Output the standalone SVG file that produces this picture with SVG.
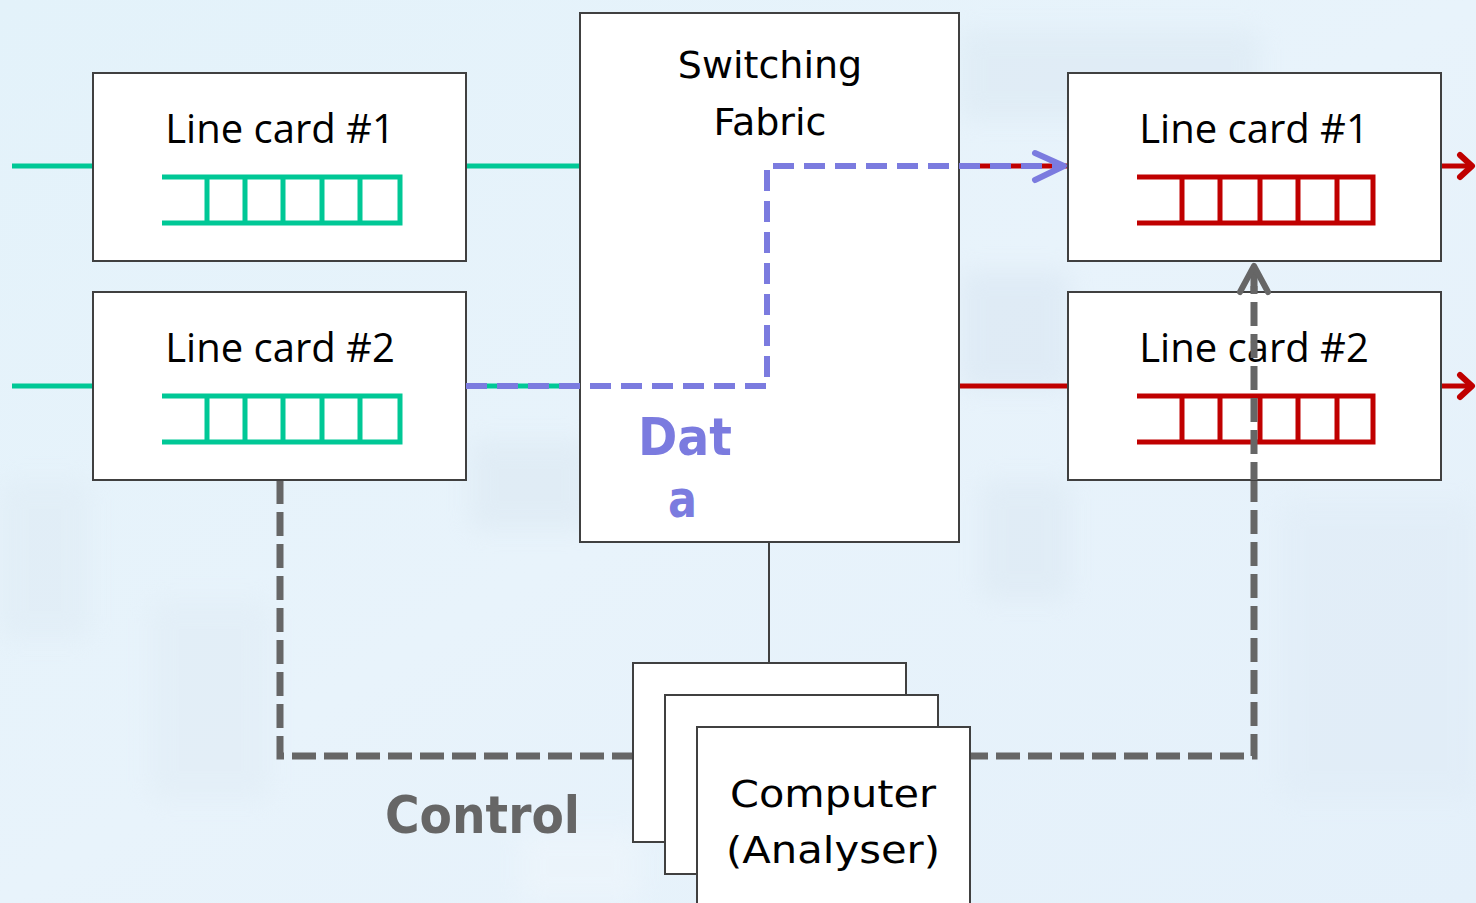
<svg xmlns="http://www.w3.org/2000/svg" width="1476" height="903" viewBox="0 0 1476 903">
  <style>
    .box { fill: #ffffff; stroke: #404040; stroke-width: 2; }
    .lc { font-family: "Open Sans", "Noto Sans", sans-serif; font-size: 40px; fill: #000; text-anchor: middle; }
    .sf { font-family: "DejaVu Sans", "Verdana", sans-serif; font-size: 38px; fill: #000; text-anchor: middle; }
    .big { font-family: "DejaVu Sans", "Verdana", sans-serif; font-weight: bold; font-size: 52px; }
    .qg { fill: none; stroke: #00c896; stroke-width: 5; }
    .qr { fill: none; stroke: #c00000; stroke-width: 5; }
    .lg { stroke: #00c896; stroke-width: 5; }
    .lr { stroke: #c00000; stroke-width: 5; fill: none; }
    .data { fill: none; stroke: #7b7bdf; stroke-width: 6; stroke-dasharray: 21 10; }
    .ctrl { fill: none; stroke: #666666; stroke-width: 7; stroke-dasharray: 24 8; }
    .head { fill: none; stroke-width: 6; stroke-linecap: round; stroke-linejoin: round; }
  </style>
  <defs>
    <linearGradient id="bg" x1="0" y1="0" x2="1" y2="1">
      <stop offset="0" stop-color="#e3f2fa"/>
      <stop offset="0.5" stop-color="#e8f3fb"/>
      <stop offset="1" stop-color="#e4f0fa"/>
    </linearGradient>
    <filter id="soft" x="-20%" y="-20%" width="140%" height="140%">
      <feGaussianBlur stdDeviation="12"/>
    </filter>
  </defs>

  <!-- backdrop -->
  <rect x="0" y="0" width="1476" height="903" fill="url(#bg)"/>
  <g filter="url(#soft)" opacity="0.4">
    <rect x="960" y="30" width="300" height="90" fill="#d6e4ef"/>
    <rect x="960" y="270" width="110" height="120" fill="#d2e0ee"/>
    <rect x="470" y="440" width="120" height="90" fill="#d6e3ee"/>
    <rect x="0" y="480" width="90" height="160" fill="#dce8f2"/>
    <rect x="980" y="480" width="90" height="120" fill="#d7e4ef"/>
    <rect x="520" y="830" width="120" height="73" fill="#f3f8fc"/>
    <rect x="150" y="600" width="120" height="200" fill="#dde9f3"/>
    <rect x="1280" y="500" width="196" height="300" fill="#dde9f4"/>
  </g>

  <!-- connectors underneath the boxes -->
  <g id="connectors">
    <line class="lg" x1="12" y1="166" x2="93" y2="166"/>
    <line class="lg" x1="466" y1="166" x2="580" y2="166"/>
    <line class="lg" x1="12" y1="386" x2="93" y2="386"/>
    <line class="lg" x1="466" y1="386" x2="580" y2="386"/>
    <line class="lr" x1="959" y1="166" x2="1068" y2="166"/>
    <line class="lr" x1="959" y1="386" x2="1068" y2="386"/>
    <line class="lr" x1="1441" y1="166" x2="1472" y2="166"/>
    <polyline class="head" stroke="#c00000" points="1460,155 1472,166 1460,177"/>
    <line class="lr" x1="1441" y1="386" x2="1472" y2="386"/>
    <polyline class="head" stroke="#c00000" points="1460,375 1472,386 1460,397"/>
    <line x1="769" y1="542" x2="769" y2="663" stroke="#404040" stroke-width="2"/>
    <!-- control path -->
    <polyline class="ctrl" points="280,480 280,756 1254,756 1254,272"/>
  </g>

  <!-- line cards, ingress side -->
  <g id="lc-in-1">
    <rect class="box" x="93" y="73" width="373" height="188"/>
    <text class="lc" x="280" y="143">Line card #1</text>
    <path class="qg" d="M162,177 H400 V223 H162 M207,177 V223 M245,177 V223 M283,177 V223 M322,177 V223 M360,177 V223"/>
  </g>
  <g id="lc-in-2">
    <rect class="box" x="93" y="292" width="373" height="188"/>
    <text class="lc" x="280" y="362">Line card #2</text>
    <path class="qg" d="M162,396 H400 V442 H162 M207,396 V442 M245,396 V442 M283,396 V442 M322,396 V442 M360,396 V442"/>
  </g>

  <!-- switching fabric -->
  <g id="fabric">
    <rect class="box" x="580" y="13" width="379" height="529"/>
    <text class="sf" x="770" y="78">Switching</text>
    <text class="sf" x="770" y="135">Fabric</text>
  </g>

  <!-- line cards, egress side -->
  <g id="lc-out-1">
    <rect class="box" x="1068" y="73" width="373" height="188"/>
    <text class="lc" x="1254" y="143">Line card #1</text>
    <path class="qr" d="M1137,177 H1373 V223 H1137 M1182,177 V223 M1220,177 V223 M1260,177 V223 M1298,177 V223 M1337,177 V223"/>
  </g>
  <g id="lc-out-2">
    <rect class="box" x="1068" y="292" width="373" height="188"/>
    <text class="lc" x="1254" y="362">Line card #2</text>
    <path class="qr" d="M1137,396 H1373 V442 H1137 M1182,396 V442 M1220,396 V442 M1260,396 V442 M1298,396 V442 M1337,396 V442"/>
  </g>

  <!-- stacked analyser computers -->
  <g id="computer">
    <rect class="box" x="633" y="663" width="273" height="179"/>
    <rect class="box" x="665" y="695" width="273" height="179"/>
    <rect class="box" x="697" y="727" width="273" height="190"/>
    <text class="sf" x="833" y="807" font-size="41" textLength="206" lengthAdjust="spacingAndGlyphs">Computer</text>
    <text class="sf" x="833" y="863" font-size="41" textLength="214" lengthAdjust="spacingAndGlyphs">(Analyser)</text>
  </g>

  <!-- flows drawn over the boxes -->
  <g id="flows">
    <polyline class="data" points="466,386 767,386 767,166 1064,166"/>
    <polyline class="head" stroke="#7b7bdf" points="1035,153 1064,166 1035,180"/>
    <line x1="1254" y1="480" x2="1254" y2="272" class="ctrl" stroke-dashoffset="6"/>
    <polyline class="head" stroke="#666666" stroke-width="7" points="1240,292 1254,266 1268,292"/>
  </g>

  <!-- labels -->
  <g id="labels">
    <text class="big" x="638" y="455" fill="#7b7bdf" textLength="94" lengthAdjust="spacingAndGlyphs">Dat</text>
    <text class="big" x="668" y="517" fill="#7b7bdf" textLength="29" lengthAdjust="spacingAndGlyphs">a</text>
    <text class="big" x="385" y="833" fill="#666666" textLength="195" lengthAdjust="spacingAndGlyphs">Control</text>
  </g>
</svg>
